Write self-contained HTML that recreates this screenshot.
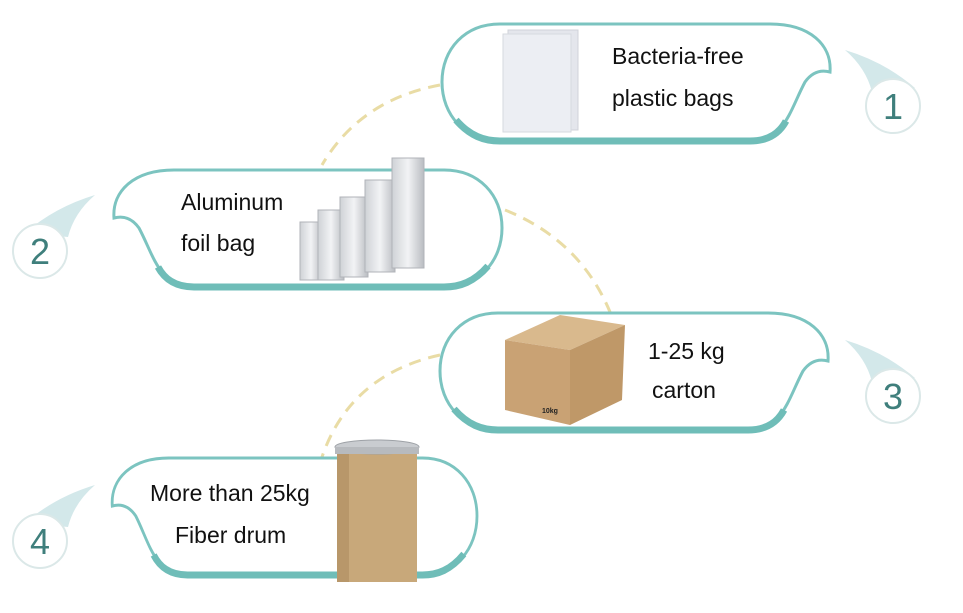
<!DOCTYPE html>
<html><head><style>
html,body{margin:0;padding:0;background:#fff;width:963px;height:613px;overflow:hidden}
svg{display:block}
text{font-family:"Liberation Sans",sans-serif}
</style></head><body>
<svg width="963" height="613" viewBox="0 0 963 613" xmlns="http://www.w3.org/2000/svg">
<defs>
<g id="bub">
<path d="M58,0 L328,0 C368,0 390,21 388,48 Q373,44 363,58 C348,86 343,117 308,117 L58,117 C23,117 0,91 0,58 C0,25 23,0 58,0 Z" fill="#fff" stroke="#7cc4c0" stroke-width="3"/>
<path d="M14,96 C28,112 42,117 58,117 L308,117 C328,117 338,108 344,97" fill="none" stroke="#6fbdb8" stroke-width="7"/>
</g>
<linearGradient id="foil" x1="0" x2="1"><stop offset="0" stop-color="#cfd2d6"/><stop offset=".5" stop-color="#f2f3f5"/><stop offset="1" stop-color="#b9bcc1"/></linearGradient>
</defs>
<g fill="none" stroke="#e9dca5" stroke-width="3" stroke-dasharray="12,8">
<path d="M440,85 Q360,100 322,165"/>
<path d="M505,210 Q580,240 610,312"/>
<path d="M440,355 Q350,375 322,457"/>
</g>
<use href="#bub" transform="translate(442,24)"/>
<use href="#bub" transform="translate(502,170) scale(-1,1)"/>
<use href="#bub" transform="translate(440,313)"/>
<use href="#bub" transform="translate(477,458) scale(-0.94,1)"/>
<g fill="#d3e8ea">
<path d="M845,50 Q885,62 915,88 L872,92 Q866,68 845,50 Z"/>
<path d="M845,340 Q885,352 915,378 L872,382 Q866,358 845,340 Z"/>
<path d="M95,195 Q55,207 25,233 L68,237 Q74,213 95,195 Z"/>
<path d="M95,485 Q55,497 25,523 L68,527 Q74,503 95,485 Z"/>
</g>
<g fill="#fff" stroke="#dbe8e8" stroke-width="2">
<circle cx="893" cy="106" r="27"/>
<circle cx="893" cy="396" r="27"/>
<circle cx="40" cy="251" r="27"/>
<circle cx="40" cy="541" r="27"/>
</g>
<g fill="#3f7f7c" font-size="36" text-anchor="middle">
<text x="893" y="119">1</text>
<text x="893" y="409">3</text>
<text x="40" y="264">2</text>
<text x="40" y="554">4</text>
</g>
<g>
<rect x="508" y="30" width="70" height="100" fill="#e4e6ec" stroke="#d0d3da"/>
<rect x="503" y="34" width="68" height="98" fill="#eceef3" stroke="#d6d9df"/>
</g>
<g fill="url(#foil)" stroke="#b0b3b8" stroke-width="1">
<rect x="300" y="222" width="22" height="58"/>
<rect x="318" y="210" width="26" height="70"/>
<rect x="340" y="197" width="28" height="80"/>
<rect x="365" y="180" width="30" height="92"/>
<rect x="392" y="158" width="32" height="110"/>
</g>
<g>
<polygon points="505,340 560,315 625,325 570,350" fill="#d9b98d"/>
<polygon points="505,340 570,350 570,425 505,410" fill="#c9a274"/>
<polygon points="570,350 625,325 622,400 570,425" fill="#bf9868"/>
<text x="542" y="413" font-size="7" fill="#222" font-weight="bold">10kg</text>
</g>
<g>
<rect x="337" y="452" width="80" height="130" fill="#c8a87a"/>
<rect x="337" y="452" width="12" height="130" fill="#b8976a"/>
<ellipse cx="377" cy="447" rx="42" ry="7" fill="#c9ccd0" stroke="#9ea2a7"/>
<rect x="335" y="447" width="84" height="7" fill="#b7babe"/>
</g>
<g font-size="23" fill="#111">
<text x="612" y="64">Bacteria-free</text>
<text x="612" y="106">plastic bags</text>
<text x="181" y="210">Aluminum</text>
<text x="181" y="251">foil bag</text>
<text x="648" y="359">1-25 kg</text>
<text x="652" y="398">carton</text>
<text x="150" y="501">More than 25kg</text>
<text x="175" y="543">Fiber drum</text>
</g>
</svg>
</body></html>
